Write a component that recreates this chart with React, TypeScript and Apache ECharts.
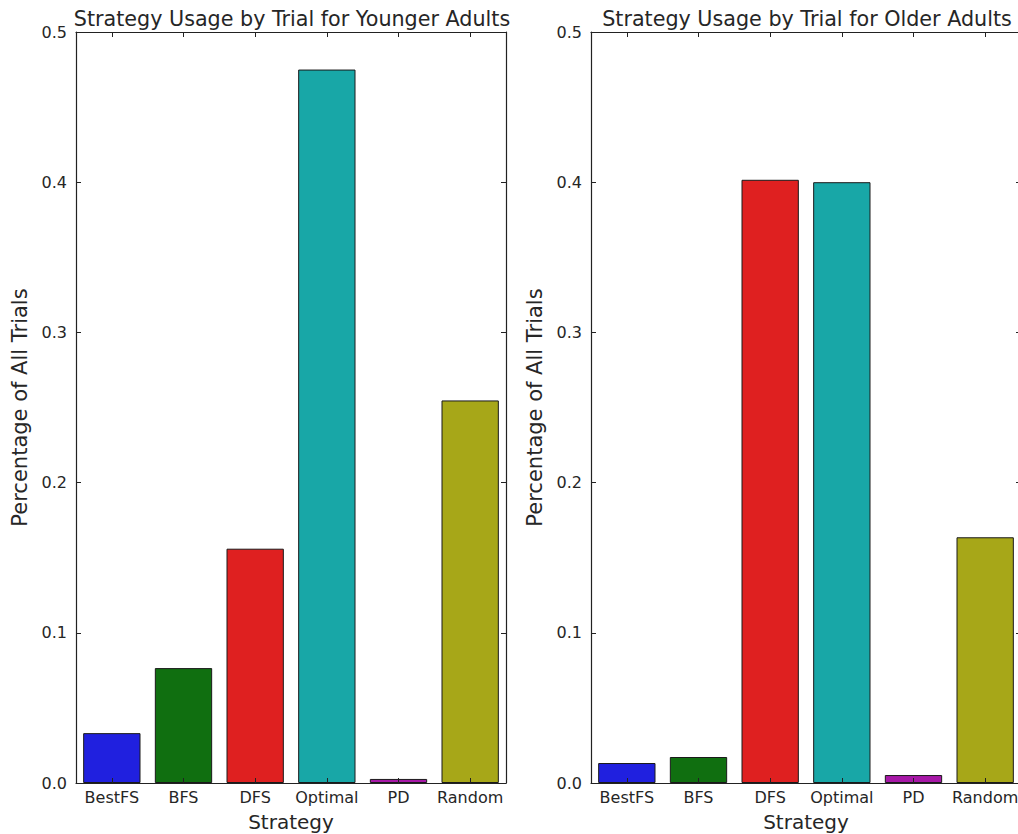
import React, { useEffect, useRef } from "react";
import * as echarts from "echarts";

const categories = ["BestFS", "BFS", "DFS", "Optimal", "PD", "Random"];
const youngerValues = [0.0332, 0.0765, 0.156, 0.475, 0.0027, 0.2547];
const olderValues = [0.0133, 0.0173, 0.4016, 0.4, 0.0053, 0.1636];
const barColors = ["#2020df", "#106f10", "#df2020", "#18a7a7", "#a718a7", "#a7a718"];
const titles = [
  "Strategy Usage by Trial for Younger Adults",
  "Strategy Usage by Trial for Older Adults",
];
const yTicks = [0, 0.1, 0.2, 0.3, 0.4, 0.5];

const FONT = "DejaVu Sans";
const TEXT = "#262626";
const SPINE = "#222222";

export default function App() {
  const ref = useRef<HTMLDivElement>(null);
  useEffect(() => {
    if (!ref.current) return;
    const chart = echarts.init(ref.current, undefined, { renderer: "svg" });
    const grids = [
      { left: 76, top: 32, width: 430, height: 751, outerBoundsMode: "none", containLabel: false },
      { left: 591, top: 32, width: 430, height: 751, outerBoundsMode: "none", containLabel: false },
    ];
    const xAxis: any[] = [];
    const yAxis: any[] = [];
    const series: any[] = [];
    const datasets = [youngerValues, olderValues];
    const tick = { show: true, inside: true, alignWithLabel: true, length: 5, lineStyle: { color: SPINE, width: 1 } };
    const line = { show: true, onZero: false, lineStyle: { color: SPINE, width: 1.2 } };
    grids.forEach((g, i) => {
      xAxis.push({
        type: "category",
        gridIndex: i,
        data: categories,
        position: "bottom",
        z: 5,
        name: "Strategy",
        nameLocation: "middle",
        nameGap: 29,
        nameTextStyle: { fontFamily: FONT, fontSize: 20, color: TEXT },
        axisLine: line,
        axisTick: tick,
        axisLabel: { fontFamily: FONT, fontSize: 16, color: TEXT, margin: 6, interval: 0 },
        splitLine: { show: false },
      });
      xAxis.push({
        type: "category",
        gridIndex: i,
        data: categories,
        position: "top",
        z: 5,
        axisLine: line,
        axisTick: tick,
        axisLabel: { show: false },
        splitLine: { show: false },
      });
      yAxis.push({
        type: "value",
        gridIndex: i,
        min: 0,
        max: 0.5,
        interval: 0.1,
        position: "left",
        z: 5,
        name: "Percentage of All Trials",
        nameLocation: "middle",
        nameGap: 46,
        nameTextStyle: { fontFamily: FONT, fontSize: 21, color: TEXT },
        axisLine: line,
        axisTick: { ...tick, alignWithLabel: false },
        axisLabel: {
          fontFamily: FONT,
          fontSize: 16,
          color: TEXT,
          margin: 9,
          formatter: (v: number) => (yTicks.some((t) => Math.abs(t - v) < 1e-9) ? v.toFixed(1) : ""),
        },
        splitLine: { show: false },
      });
      yAxis.push({
        type: "value",
        gridIndex: i,
        min: 0,
        max: 0.5,
        interval: 0.1,
        position: "right",
        z: 5,
        axisLine: line,
        axisTick: { ...tick, alignWithLabel: false },
        axisLabel: { show: false },
        splitLine: { show: false },
      });
      series.push({
        type: "bar",
        xAxisIndex: i * 2,
        yAxisIndex: i * 2,
        barCategoryGap: "20%",
        z: 1,
        data: datasets[i].map((v, k) => ({
          value: v,
          itemStyle: { color: barColors[k], borderColor: "#1a1a1a", borderWidth: 1 },
        })),
      });
    });
    chart.setOption({
      animation: false,
      backgroundColor: "#ffffff",
      title: titles.map((t, i) => ({
        text: t,
        left: grids[i].left + grids[i].width / 2 - 4,
        top: 3,
        textAlign: "center",
        textStyle: { fontFamily: FONT, fontSize: 20.7, fontWeight: "normal", color: TEXT },
      })),
      grid: grids,
      xAxis,
      yAxis,
      series,
    });
    return () => chart.dispose();
  }, []);
  return (
    <div
      ref={ref}
      style={{ position: "fixed", left: 0, top: 0, width: 1018, height: 834, background: "#fff" }}
    />
  );
}
